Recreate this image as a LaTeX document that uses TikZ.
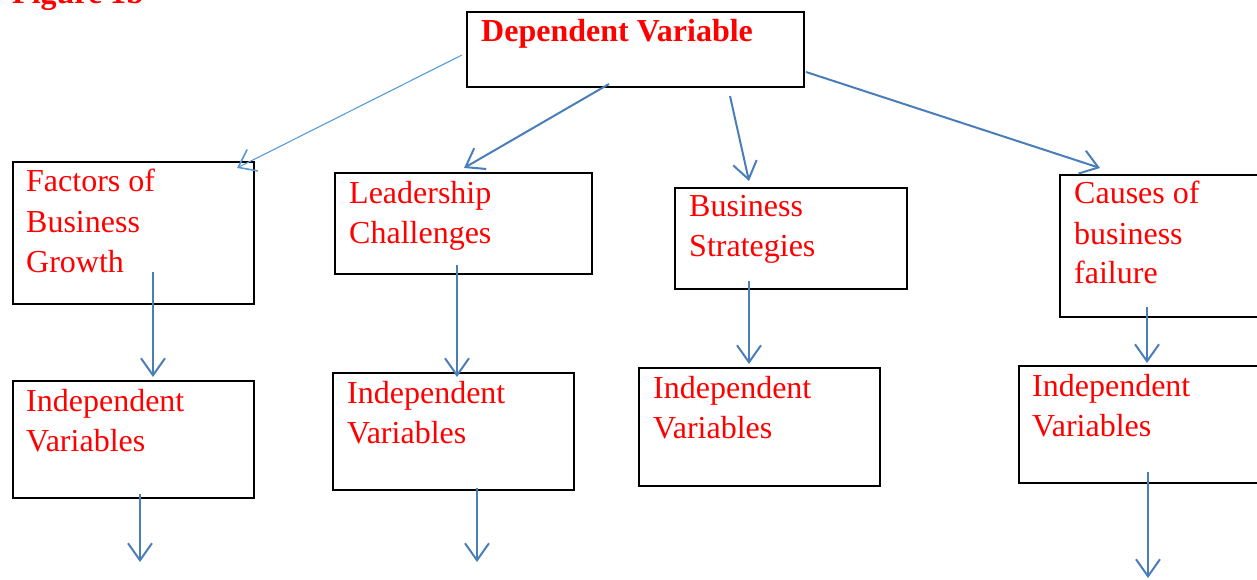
\documentclass[tikz,border=0pt]{standalone}
\usepackage{fontspec}
\setmainfont{Liberation Serif}
\usetikzlibrary{arrows.meta}
\definecolor{arrowblue}{HTML}{4A7EBB}
\definecolor{lightarrow}{HTML}{5B9BD5}
\definecolor{textred}{HTML}{FF0000}
\begin{document}
\begin{tikzpicture}[x=1pt,y=-1pt,
  box/.style={draw=black,line width=2.4pt,rectangle,anchor=north west,inner sep=0pt},
  lbl/.style={text=textred,font=\fontsize{32}{40}\selectfont,anchor=base west,inner sep=0pt},
  arr/.style={draw=arrowblue,line width=2pt,-{Straight Barb[length=17pt,width=24pt]}},
  thinarr/.style={draw=lightarrow,line width=1.1pt,-{Straight Barb[length=16pt,width=24pt,line width=1.6pt]}}
]
\useasboundingbox (0,0) rectangle (1257,580);
\clip (0,0) rectangle (1257,580);

% title
\node[lbl,font=\bfseries\fontsize{32}{40}\selectfont] (fig) at (12,4) {Figure 1b};

% boxes
\node[box,minimum width=337pt,minimum height=75pt] (dv) at (466,11) {};
\node[box,minimum width=241pt,minimum height=142pt] (fac) at (12,161) {};
\node[box,minimum width=257pt,minimum height=101pt] (lead) at (334,172) {};
\node[box,minimum width=232pt,minimum height=101pt] (bus) at (674,187) {};
\node[box,minimum width=260pt,minimum height=142pt] (cause) at (1059,174) {};
\node[box,minimum width=241pt,minimum height=117pt] (iv1) at (12,380) {};
\node[box,minimum width=241pt,minimum height=117pt] (iv2) at (332,372) {};
\node[box,minimum width=241pt,minimum height=118pt] (iv3) at (638,367) {};
\node[box,minimum width=260pt,minimum height=117pt] (iv4) at (1018,365) {};

% texts
\node[lbl,font=\bfseries\fontsize{32}{40}\selectfont] (dvt) at (481,42) {Dependent Variable};
\node[lbl] (fact) at (26,192) {\begin{tabular}[t]{@{}l@{}}Factors of\\Business\\Growth\end{tabular}};
\node[lbl] (leadt) at (349,203) {\begin{tabular}[t]{@{}l@{}}Leadership\\Challenges\end{tabular}};
\node[lbl] (bust) at (689,216) {\begin{tabular}[t]{@{}l@{}}Business\\Strategies\end{tabular}};
\node[lbl] (causet) at (1074,204) {\begin{tabular}[t]{@{}l@{}}Causes of\\business\\failure\end{tabular}};
\node[lbl] (iv1t) at (26,411) {\begin{tabular}[t]{@{}l@{}}Independent\\Variables\end{tabular}};
\node[lbl] (iv2t) at (347,403) {\begin{tabular}[t]{@{}l@{}}Independent\\Variables\end{tabular}};
\node[lbl] (iv3t) at (653,398) {\begin{tabular}[t]{@{}l@{}}Independent\\Variables\end{tabular}};
\node[lbl] (iv4t) at (1032,396) {\begin{tabular}[t]{@{}l@{}}Independent\\Variables\end{tabular}};

% arrow end points
\coordinate (a1s) at (462,55);   \coordinate (a1e) at (237,168);
\coordinate (a2s) at (609,84);   \coordinate (a2e) at (464,168);
\coordinate (a3s) at (730,96);   \coordinate (a3e) at (749,181);
\coordinate (a4s) at (806,72);   \coordinate (a4e) at (1100,168);
\coordinate (d1s) at (153,272);  \coordinate (d1e) at (153,377);
\coordinate (d2s) at (457,265);  \coordinate (d2e) at (457,377);
\coordinate (d3s) at (749,281);  \coordinate (d3e) at (749,364);
\coordinate (d4s) at (1147,307); \coordinate (d4e) at (1147,363);
\coordinate (e1s) at (140,494);  \coordinate (e1e) at (140,562);
\coordinate (e2s) at (477,488);  \coordinate (e2e) at (477,562);
\coordinate (e4s) at (1148,472); \coordinate (e4e) at (1148,578);

\draw[thinarr] (a1s) -- (a1e);
\draw[arr] (a2s) -- (a2e);
\draw[arr] (a3s) -- (a3e);
\draw[arr] (a4s) -- (a4e);
\draw[arr] (d1s) -- (d1e);
\draw[arr] (d2s) -- (d2e);
\draw[arr] (d3s) -- (d3e);
\draw[arr] (d4s) -- (d4e);
\draw[arr] (e1s) -- (e1e);
\draw[arr] (e2s) -- (e2e);
\draw[arr] (e4s) -- (e4e);
\end{tikzpicture}
\end{document}
